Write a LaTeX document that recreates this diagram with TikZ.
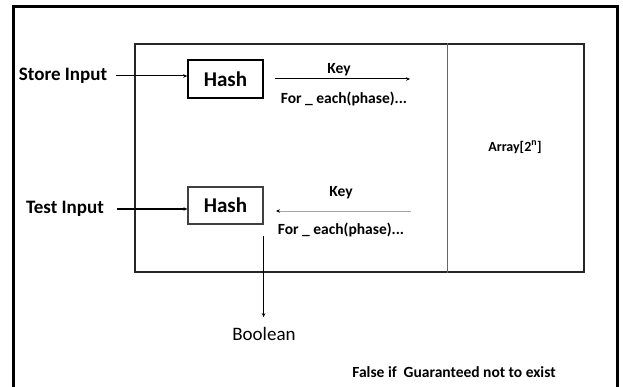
\documentclass[tikz,border=0pt]{standalone}
\usepackage{fontspec}
\setmainfont{Carlito}
\usetikzlibrary{positioning,arrows.meta,calc}

\begin{document}
\begin{tikzpicture}[x=1pt,y=-1pt,
  hb/.style={draw=black,line width=1.6pt,minimum width=75pt,minimum height=38pt,inner sep=0pt,font=\fontsize{21}{23}\selectfont\bfseries},
  lb/.style={font=\fontsize{19}{21}\selectfont\bfseries,inner sep=1pt},
  sm/.style={font=\fontsize{15.5}{17}\selectfont\bfseries,inner sep=1pt},
  ar/.style={-{Stealth[length=4pt,width=3.5pt]},line width=1pt}]
  \useasboundingbox (0,0) rectangle (623,387);
  % outer frame, open at the bottom
  \draw[line width=3pt] (13,387) -- (13,7) -- (617,7) -- (617,387);
  % store and array box
  \node[draw=black!85,line width=1.4pt,minimum width=449pt,minimum height=228pt,inner sep=0pt] (tbl) at (359.5,158) {};
  \draw[black!60,line width=0.9pt] ($(tbl.north west)+(313,0)$) -- ($(tbl.south west)+(313,0)$);
  \node[font=\fontsize{14}{16}\selectfont\bfseries] (arr) at (515,147) {Array[2\textsuperscript{n}]};
  % the two hash units
  \node[hb] (h1) at (225.5,79) {Hash};
  \node[hb,draw=black!75,line width=1.2pt,minimum height=37pt] (h2) at (225.5,205.5) {Hash};
  \node[lb] (si) at (63,76) {Store Input};
  \node[lb] (ti) at (65,209) {Test Input};
  \draw[ar,shorten <=8pt] (si.east) -- (si.east -| h1.west);
  \draw[ar,line width=1.4pt,shorten <=12pt] (ti.east) -- (ti.east -| h2.west);
  % keys going in and coming back
  \coordinate (k1a) at (275,79);
  \coordinate (k1b) at (410,79);
  \draw[ar] (k1a) -- (k1b);
  \node[sm] (key1) at (339,70) {Key};
  \node[sm] (fe1) at (344,99) {For \_ each(phase)...};
  \coordinate (k2a) at (411,211);
  \coordinate (k2b) at (276,211);
  \draw[ar,black!35,line width=0.7pt,-{Stealth[length=4pt,width=3.5pt,black]}] (k2a) -- (k2b);
  \node[sm] (key2) at (341,193) {Key};
  \node[sm] (fe2) at (341,230) {For \_ each(phase)...};
  % result of the lookup
  \coordinate (b0) at ($(h2.south east)+(0,11)$);
  \node[lb,font=\fontsize{19}{21}\selectfont] (bool) at (264,334) {Boolean};
  \draw[ar,shorten >=9pt] (b0) -- (b0 |- bool.north);
  \node[sm] (fls) at (454,372) {False if\ \ Guaranteed not to exist};
\end{tikzpicture}
\end{document}
